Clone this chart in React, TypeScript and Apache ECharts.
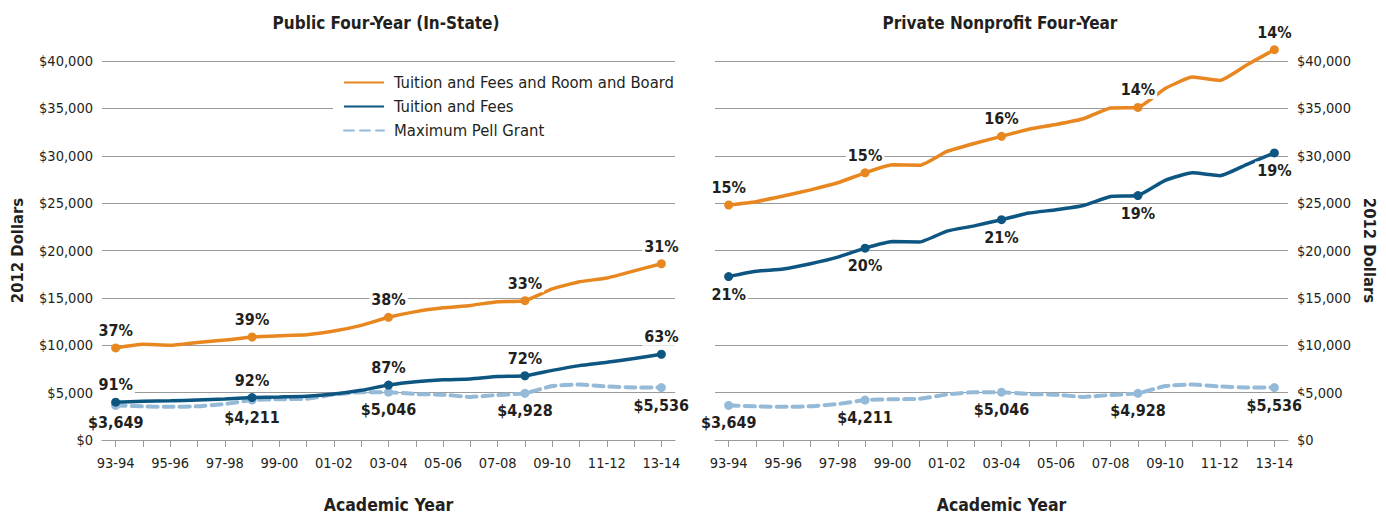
import React, { useEffect, useRef } from "react";
import * as echarts from "echarts";

const years = [
  "93-94", "94-95", "95-96", "96-97", "97-98", "98-99", "99-00", "00-01", "01-02", "02-03",
  "03-04", "04-05", "05-06", "06-07", "07-08", "08-09", "09-10", "10-11", "11-12", "12-13", "13-14",
];

const pellGrant = [3649, 3550, 3500, 3560, 3800, 4211, 4300, 4350, 4800, 5050, 5046, 4850, 4780, 4550, 4750, 4928, 5700, 5850, 5650, 5550, 5536];

const publicRoomBoard = [9720, 10100, 10000, 10300, 10550, 10870, 11000, 11110, 11500, 12100, 12950, 13550, 13950, 14200, 14600, 14700, 15950, 16700, 17100, 17850, 18600];
const publicTuition = [3990, 4080, 4130, 4220, 4320, 4480, 4550, 4620, 4850, 5250, 5800, 6150, 6350, 6450, 6700, 6780, 7350, 7850, 8200, 8600, 9050];

const privateRoomBoard = [24800, 25150, 25750, 26400, 27150, 28200, 29050, 29000, 30450, 31300, 32050, 32800, 33300, 33900, 35050, 35100, 37100, 38300, 37950, 39600, 41200];
const privateTuition = [17250, 17800, 18050, 18600, 19300, 20250, 20950, 20900, 22050, 22600, 23250, 23950, 24300, 24750, 25700, 25800, 27400, 28200, 27900, 29100, 30300];

const markerIndex = [0, 5, 10, 15, 20];
const pellLabels = ["$3,649", "$4,211", "$5,046", "$4,928", "$5,536"];
const publicRoomBoardLabels = ["37%", "39%", "38%", "33%", "31%"];
const publicTuitionLabels = ["91%", "92%", "87%", "72%", "63%"];
const privateRoomBoardLabels = ["15%", "15%", "16%", "14%", "14%"];
const privateTuitionLabels = ["21%", "20%", "21%", "19%", "19%"];

const seriesNames = ["Tuition and Fees and Room and Board", "Tuition and Fees", "Maximum Pell Grant"];
const chartTitles = ["Public Four-Year (In-State)", "Private Nonprofit Four-Year"];

const FONT = '"DejaVu Sans Condensed", "Liberation Sans Narrow", "Arial Narrow", sans-serif';
const ORANGE = "#E8871F";
const BLUE = "#0D5682";
const PELL = "#95BAD8";
const GRID = "#9A9A9A";
const TEXT = "#231F20";

function buildData(values: number[], labels: string[], position: string) {
  return values.map((v, i) => {
    const k = markerIndex.indexOf(i);
    if (k < 0) return v;
    return {
      value: v,
      symbol: "circle",
      symbolSize: 9,
      label: {
        show: true,
        position,
        distance: 4,
        formatter: labels[k],
        fontFamily: FONT,
        fontWeight: "bold",
        fontSize: 16,
        color: TEXT,
        backgroundColor: "#ffffff",
        padding: [1, 2],
      },
    };
  });
}

function lineSeries(name: string, idx: number, data: any[], color: string, dashed: boolean) {
  return {
    name,
    type: "line",
    xAxisIndex: idx,
    yAxisIndex: idx,
    data,
    symbol: "none",
    smooth: 0.15,
    clip: false,
    z: dashed ? 2 : 3,
    itemStyle: { color },
    lineStyle: {
      color,
      width: dashed ? 4 : 3.5,
      type: dashed ? [10, 6] : "solid",
      cap: dashed ? "round" : "butt",
    },
  };
}

const money = (v: number) => "$" + v.toLocaleString("en-US");

export default function App() {
  const ref = useRef<HTMLDivElement>(null);

  useEffect(() => {
    if (!ref.current) return;
    const chart = echarts.init(ref.current, undefined, { renderer: "svg" });

    const xAxis = (gridIndex: number) => ({
      type: "category",
      gridIndex,
      data: years,
      boundaryGap: true,
      axisLine: { show: true, lineStyle: { color: GRID, width: 1 } },
      axisTick: { show: true, alignWithLabel: true, interval: 0, length: 7, lineStyle: { color: GRID } },
      axisLabel: { interval: 1, margin: 15, fontFamily: FONT, fontSize: 14.5, color: TEXT },
      splitLine: { show: false },
      name: "Academic Year",
      nameLocation: "middle",
      nameGap: 56,
      nameTextStyle: { fontFamily: FONT, fontWeight: "bold", fontSize: 17.5, color: TEXT },
    });

    const yAxis = (gridIndex: number) => ({
      type: "value",
      gridIndex,
      position: gridIndex === 0 ? "left" : "right",
      min: 0,
      max: 40000,
      interval: 5000,
      axisLine: { show: false },
      axisTick: { show: false },
      axisLabel: { formatter: money, margin: 9, fontFamily: FONT, fontSize: 14.5, color: TEXT },
      splitLine: { show: true, lineStyle: { color: GRID, width: 1 } },
      name: "2012 Dollars",
      nameLocation: "middle",
      nameRotate: gridIndex === 0 ? 90 : -90,
      nameGap: gridIndex === 0 ? 76 : 73,
      nameTextStyle: { fontFamily: FONT, fontWeight: "bold", fontSize: 16.5, color: TEXT },
    });

    chart.setOption({
      animation: false,
      backgroundColor: "#ffffff",
      textStyle: { fontFamily: FONT },
      title: [
        {
          text: chartTitles[0],
          left: 386,
          top: 14,
          textAlign: "center",
          padding: 0,
          textStyle: { fontFamily: FONT, fontWeight: "bold", fontSize: 17, color: TEXT },
        },
        {
          text: chartTitles[1],
          left: 1000,
          top: 14,
          textAlign: "center",
          padding: 0,
          textStyle: { fontFamily: FONT, fontWeight: "bold", fontSize: 17, color: TEXT },
        },
      ],
      legend: {
        data: seriesNames,
        orient: "vertical",
        left: 333,
        top: 68,
        padding: [6, 8, 6, 10],
        backgroundColor: "#ffffff",
        itemWidth: 40,
        itemHeight: 14,
        itemGap: 7,
        itemStyle: { opacity: 0 },
        textStyle: { fontFamily: FONT, fontSize: 16.5, color: TEXT, padding: [0, 0, 0, 5] },
      },
      grid: [
        { left: 102, top: 61, width: 573, height: 384 },
        { left: 715, top: 61, width: 573, height: 384 },
      ],
      xAxis: [xAxis(0), xAxis(1)],
      yAxis: [yAxis(0), yAxis(1)],
      series: [
        lineSeries(seriesNames[2], 0, buildData(pellGrant, pellLabels, "bottom"), PELL, true),
        lineSeries(seriesNames[1], 0, buildData(publicTuition, publicTuitionLabels, "top"), BLUE, false),
        lineSeries(seriesNames[0], 0, buildData(publicRoomBoard, publicRoomBoardLabels, "top"), ORANGE, false),
        lineSeries(seriesNames[2], 1, buildData(pellGrant, pellLabels, "bottom"), PELL, true),
        lineSeries(seriesNames[1], 1, buildData(privateTuition, privateTuitionLabels, "bottom"), BLUE, false),
        lineSeries(seriesNames[0], 1, buildData(privateRoomBoard, privateRoomBoardLabels, "top"), ORANGE, false),
      ],
    });

    return () => chart.dispose();
  }, []);

  return (
    <div
      ref={ref}
      style={{ position: "fixed", left: 0, top: 0, width: 1386, height: 519, overflow: "hidden" }}
    />
  );
}
